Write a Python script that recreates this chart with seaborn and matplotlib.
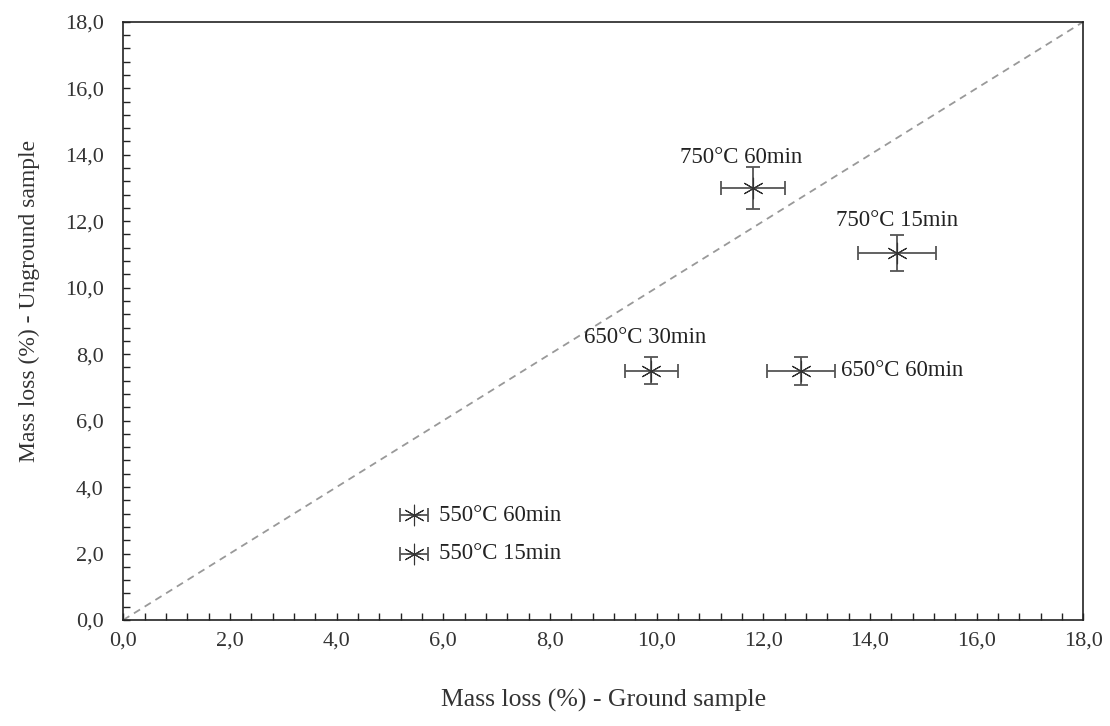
import seaborn as sns
import matplotlib.pyplot as plt
import pandas as pd
from matplotlib.ticker import MultipleLocator, FuncFormatter

# measured points (ground vs unground sample)
labels = ["550°C 15min", "550°C 60min", "650°C 30min", "650°C 60min", "750°C 15min", "750°C 60min"]
ground = [5.45, 5.45, 9.9, 12.7, 14.5, 11.8]
unground = [2.0, 3.15, 7.5, 7.5, 11.05, 13.0]
ground_err = [0.26, 0.26, 0.5, 0.64, 0.73, 0.6]
unground_err = [0.0, 0.0, 0.4, 0.42, 0.54, 0.63]

df = pd.DataFrame({"label": labels, "ground": ground, "unground": unground,
                   "xerr": ground_err, "yerr": unground_err})

sns.set_style("white")
plt.rcParams['font.family'] = ['Liberation Serif', 'DejaVu Serif']

fig = plt.figure(figsize=(11.1, 7.26), dpi=100)
ax = fig.add_axes([0.111, 0.146, 0.865, 0.824])

# 1:1 line
ax.plot([0, 18], [0, 18], ls=(0, (4, 3)), color="#999999", lw=1.3, zorder=1)

ax.errorbar(df["ground"], df["unground"], xerr=df["xerr"], yerr=df["yerr"],
            fmt="none", ecolor="#555555", elinewidth=1.3, capsize=5, capthick=1.3, zorder=2)
sns.scatterplot(x="ground", y="unground", data=df, ax=ax, marker=(6, 2, 0),
                s=220, color="#333333", linewidth=0.8, edgecolor="#333333", zorder=3)

# label offsets in pixels (dx, dy, ha)
offsets = {
    "550°C 15min": (25, 0, "left"),
    "550°C 60min": (25, 0, "left"),
    "650°C 30min": (-6, 33, "center"),
    "650°C 60min": (40, 0, "left"),
    "750°C 15min": (0, 32, "center"),
    "750°C 60min": (-12, 30, "center"),
}
for _, r in df.iterrows():
    dx, dy, ha = offsets[r["label"]]
    ax.annotate(r["label"], (r["ground"], r["unground"]), xytext=(dx, dy),
                textcoords="offset pixels", ha=ha, va="center", fontsize=16.5, color="#222222")

ax.set_xlim(0, 18)
ax.set_ylim(0, 18)
ax.xaxis.set_major_locator(MultipleLocator(2))
ax.yaxis.set_major_locator(MultipleLocator(2))
ax.xaxis.set_minor_locator(MultipleLocator(0.4))
ax.yaxis.set_minor_locator(MultipleLocator(0.4))
fmt = FuncFormatter(lambda v, p: f"{v:.1f}".replace(".", ","))
ax.xaxis.set_major_formatter(fmt)
ax.yaxis.set_major_formatter(fmt)
ax.tick_params(which="both", direction="in", bottom=True, left=True, top=False, right=False,
               color="#222222", width=1.0)
ax.tick_params(which="major", length=5, labelsize=16, labelcolor="#333333")
ax.tick_params(which="minor", length=5)
ax.tick_params(axis="x", which="major", pad=8)
ax.tick_params(axis="y", which="major", pad=14)
for s in ax.spines.values():
    s.set_color("#222222")
    s.set_linewidth(1.2)

ax.set_xlabel("Mass loss (%) - Ground sample", fontsize=18.5, color="#333333")
ax.set_ylabel("Mass loss (%) - Unground sample", fontsize=17, color="#333333")
ax.xaxis.set_label_coords(0.5, -0.115)
ax.yaxis.set_label_coords(-0.0865, 0.533)

fig.savefig("out.png", dpi=100)
